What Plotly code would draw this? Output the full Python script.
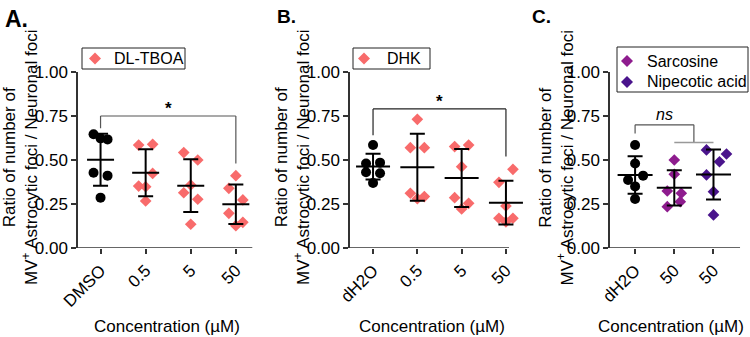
import numpy as np
import plotly.graph_objects as go

# ---------------- data ----------------
a_labels = ["DMSO", "0.5", "5", "50"]
a_dmso = [0.646, 0.623, 0.617, 0.428, 0.411, 0.286]
a_tboa_05 = [0.585, 0.589, 0.424, 0.352, 0.348, 0.267]
a_tboa_5 = [0.542, 0.500, 0.358, 0.314, 0.277, 0.135]
a_tboa_50 = [0.411, 0.339, 0.273, 0.197, 0.146, 0.127]

b_labels = ["dH2O", "0.5", "5", "50"]
b_dh2o = [0.585, 0.480, 0.485, 0.430, 0.425, 0.370]
b_dhk_05 = [0.731, 0.570, 0.570, 0.311, 0.292, 0.280]
b_dhk_5 = [0.576, 0.585, 0.462, 0.286, 0.254, 0.222]
b_dhk_50 = [0.447, 0.373, 0.239, 0.169, 0.169, 0.149]

c_labels = ["dH2O", "50", "50"]
c_dh2o = [0.585, 0.480, 0.411, 0.386, 0.350, 0.278]
c_sarcosine = [0.500, 0.419, 0.324, 0.311, 0.263, 0.235]
c_nipecotic = [0.557, 0.534, 0.490, 0.415, 0.320, 0.188]

y_ticks = [0.0, 0.25, 0.5, 0.75, 1.0]

# ---------------- styles / layout ----------------
W, H = 750, 337
FONT = "Liberation Sans, Arial, sans-serif"
BLACK = "#000000"
PINK = "#F86B6B"
PURPLE = "#8E1C8E"
INDIGO = "#4A148C"
AXC = "#333333"
TICK_FS = 17


def px(x):
    return x / W


def py(y):
    return 1 - y / H


Y_DOM = [py(248), py(72)]

panels = [
    dict(xa="x", ya="y", labels=a_labels, pxc=45.1, dom=(78, 253), start=-0.5,
         end=3.37, extra=0.0, hw=13.5,
         groups=[(a_dmso, BLACK, "circle"),
                 (a_tboa_05, PINK, "diamond"),
                 (a_tboa_5, PINK, "diamond"),
                 (a_tboa_50, PINK, "diamond")],
         jit=[[-7, 0, 7, -7, 7, 0], [-7, 7, 7, -7, 0, 0],
              [-7, 7, 0, -7, 7, 0], [0, -7, 7, -7, 7, 0]],
         legend=dict(box=(82, 48, 185, 69), items=[("DL-TBOA", PINK, 58.5)],
                     mx=95, tx=112)),
    dict(xa="x2", ya="y2", labels=b_labels, pxc=44.3, dom=(350, 509), start=-0.52,
         end=3.07, extra=0.6, hw=17,
         groups=[(b_dh2o, BLACK, "circle"),
                 (b_dhk_05, PINK, "diamond"),
                 (b_dhk_5, PINK, "diamond"),
                 (b_dhk_50, PINK, "diamond")],
         jit=[[0, -7, 7, -7, 7, 0], [0, -7, 7, -7, 7, 0],
              [-7, 7, 0, -7, 7, 0], [7, -7, 0, -7, 7, 0]],
         legend=dict(box=(353, 48, 430, 69), items=[("DHK", PINK, 58.5)],
                     mx=364, tx=385)),
    dict(xa="x3", ya="y3", labels=c_labels, pxc=39.2, dom=(610, 740), start=-0.64,
         end=2.68, extra=0.0, hw=17.5,
         groups=[(c_dh2o, BLACK, "circle"),
                 (c_sarcosine, PURPLE, "diamond"),
                 (c_nipecotic, INDIGO, "diamond")],
         jit=[[0, 0, 8, -7, 0, 0], [0, 0, -7, 7, 6, -7],
              [-7, 13, 6, -7, 0, 0]],
         legend=dict(box=(617, 47, 748, 92),
                     items=[("Sarcosine", PURPLE, 61), ("Nipecotic acid", INDIGO, 82)],
                     mx=627, tx=645)),
]

fig = go.Figure()
layout = dict(template="none", width=W, height=H,
              margin=dict(l=0, r=0, t=0, b=0, autoexpand=False),
              paper_bgcolor="white", plot_bgcolor="white",
              font=dict(family=FONT, color=BLACK, size=16), showlegend=False)
shapes = []
annotations = []

for k, p in enumerate(panels):
    sfx = "" if k == 0 else str(k + 1)
    pxc = p["pxc"]
    rng_end = p["end"] + p["extra"]
    for i, (vals, col, sym) in enumerate(p["groups"]):
        v = np.array(vals)
        xs = i + np.array(p["jit"][i]) / pxc
        fig.add_trace(go.Scatter(
            x=xs, y=v, mode="markers", xaxis=p["xa"], yaxis=p["ya"],
            marker=dict(symbol=sym, color=col, size=10 if sym == "circle" else 9,
                        line=dict(width=0)),
            cliponaxis=False, hoverinfo="skip"))
    for i, (vals, col, sym) in enumerate(p["groups"]):
        v = np.array(vals)
        m = v.mean()
        sd = v.std(ddof=1)
        hw = p["hw"] / pxc
        fig.add_trace(go.Scatter(
            x=[i - hw, i + hw], y=[m, m], mode="lines", xaxis=p["xa"], yaxis=p["ya"],
            line=dict(color=BLACK, width=2), cliponaxis=False, hoverinfo="skip"))
        fig.add_trace(go.Scatter(
            x=[i], y=[m], mode="markers", xaxis=p["xa"], yaxis=p["ya"],
            marker=dict(size=1, color="rgba(0,0,0,0)"),
            error_y=dict(type="data", array=[sd], visible=True, color=BLACK,
                         thickness=2, width=7.5),
            cliponaxis=False, hoverinfo="skip"))

    d1 = min(1.0, px(p["dom"][0] + (rng_end - p["start"]) * pxc))
    layout["xaxis" + sfx] = dict(
        domain=[px(p["dom"][0]), d1], automargin=False,
        range=[p["start"], rng_end], anchor=p["ya"],
        tickvals=list(range(len(p["labels"]))), ticktext=p["labels"],
        tickangle=-45, ticks="outside", ticklen=5, tickwidth=1.5, tickcolor=AXC,
        showline=False, showgrid=False, zeroline=False,
        tickfont=dict(size=TICK_FS, family=FONT, color=BLACK))
    layout["yaxis" + sfx] = dict(
        domain=Y_DOM, range=[0, 1], anchor=p["xa"], tickvals=y_ticks, automargin=False,
        tickformat=".2f", ticks="outside", ticklen=5, tickwidth=1.5, tickcolor=AXC,
        showline=True, linecolor=AXC, linewidth=1.5, showgrid=False, zeroline=False,
        tickfont=dict(size=TICK_FS, family=FONT, color=BLACK))
    # x baseline
    shapes.append(dict(type="line", xref=p["xa"], yref=p["ya"], x0=p["start"],
                       x1=p["end"], y0=0, y1=0, line=dict(color=AXC, width=1.5)))

    # legend box (manual, to match the reference's compact legend)
    lg = p["legend"]
    bx0, by0, bx1, by1 = lg["box"]
    shapes.append(dict(type="rect", xref="paper", yref="paper", x0=px(bx0), x1=px(bx1),
                       y0=py(by1), y1=py(by0), line=dict(color="#222", width=1),
                       fillcolor="rgba(0,0,0,0)"))
    r = 6.0
    for name, col, ly in lg["items"]:
        cx = lg["mx"]
        path = "M {a},{b} L {c},{d} L {a},{e} L {f},{d} Z".format(
            a=px(cx), b=py(ly - r), c=px(cx + r), d=py(ly), e=py(ly + r), f=px(cx - r))
        shapes.append(dict(type="path", xref="paper", yref="paper", path=path,
                           fillcolor=col, line=dict(width=0)))
        annotations.append(dict(text=name, xref="paper", yref="paper", x=px(lg["tx"]),
                                y=py(ly), xanchor="left", yanchor="middle",
                                showarrow=False,
                                font=dict(size=16, family=FONT, color=BLACK)))

# overall positions (px) for titles
ytitle_x = [20, 292, 555.5]
xtitle_x = [167, 432, 671]
letters = [("A.", 5, 23), ("B.", 277, 19), ("C.", 532, 19)]
for k in range(3):
    annotations.append(dict(
        text="Ratio of number of<br>MV<sup>+</sup> Astrocytic foci / Neuronal foci",
        xref="paper", yref="paper", x=px(ytitle_x[k]), y=py(158), textangle=-90,
        showarrow=False, xanchor="center", yanchor="middle",
        font=dict(size=17, family=FONT, color=BLACK)))
    annotations.append(dict(
        text="Concentration (µM)", xref="paper", yref="paper", x=px(xtitle_x[k]),
        y=py(326), showarrow=False, xanchor="center", yanchor="middle",
        font=dict(size=17, family=FONT, color=BLACK)))
    t, lx, fs = letters[k]
    annotations.append(dict(
        text="<b>%s</b>" % t, xref="paper", yref="paper", x=px(lx - 2), y=py(4),
        showarrow=False, xanchor="left", yanchor="top",
        font=dict(size=fs, family=FONT, color=BLACK)))

# significance brackets
GR = "#555555"
def seg(xa, ya, x0, y0, x1, y1, col=GR, w=1.2):
    shapes.append(dict(type="line", xref=xa, yref=ya, x0=x0, y0=y0, x1=x1, y1=y1,
                       line=dict(color=col, width=w)))

seg("x", "y", 0, 0.68, 0, 0.75); seg("x", "y", 0, 0.75, 3, 0.75); seg("x", "y", 3, 0.75, 3, 0.48)
seg("x2", "y2", 0, 0.64, 0, 0.79, "#222"); seg("x2", "y2", 0, 0.79, 3, 0.79, "#222"); seg("x2", "y2", 3, 0.79, 3, 0.52, "#222")
seg("x3", "y3", 0, 0.65, 0, 0.70); seg("x3", "y3", 0, 0.70, 1.5, 0.70); seg("x3", "y3", 1.5, 0.70, 1.5, 0.60)
seg("x3", "y3", 1, 0.60, 2, 0.60, "#999999", 1.5)

annotations.append(dict(text="<b>*</b>", xref="x", yref="y", x=1.5, y=0.75,
                        yanchor="bottom", yshift=-4, showarrow=False, font=dict(size=17)))
annotations.append(dict(text="<b>*</b>", xref="x2", yref="y2", x=1.5, y=0.79,
                        yanchor="bottom", yshift=-4, showarrow=False, font=dict(size=17)))
annotations.append(dict(text="<i>ns</i>", xref="x3", yref="y3", x=0.75, y=0.70,
                        yanchor="bottom", showarrow=False, font=dict(size=16)))

layout["shapes"] = shapes
layout["annotations"] = annotations
fig.update_layout(**layout)
fig.write_html("out.html", config={"displayModeBar": False},
               post_script="document.body.style.margin='0px';document.body.style.padding='0px';")
